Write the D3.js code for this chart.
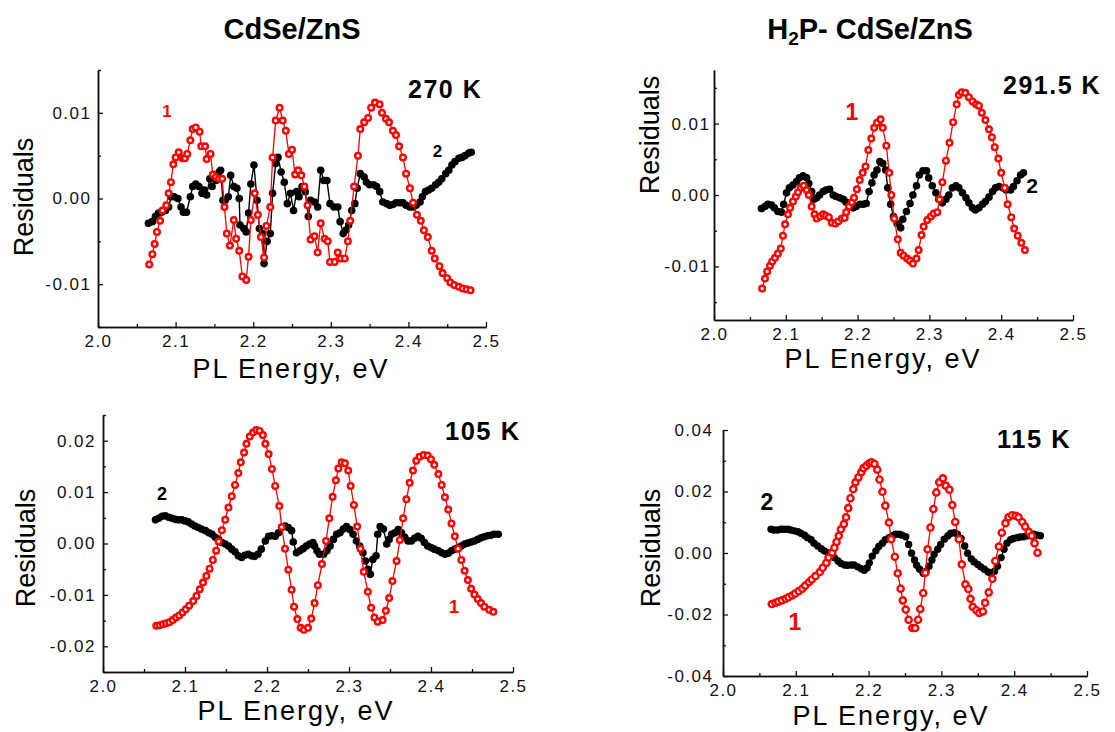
<!DOCTYPE html>
<html>
<head>
<meta charset="utf-8">
<script src="https://cdn.jsdelivr.net/npm/d3@7"></script>
<style>
  html, body { margin: 0; padding: 0; background: #fff; }
  svg { display: block; font-family: Arial, "Liberation Sans", sans-serif; }
</style>
</head>
<body>
<div id="chart"></div>
<script>
// residual curves, [PL energy (eV), residual]; 1 = red open circles, 2 = black dots

// CdSe/ZnS, 270 K
const red270 = [
  [2.066,-0.0077],[2.070,-0.0065],[2.073,-0.0053],[2.076,-0.0039],[2.080,-0.0026],[2.083,-0.0014],[2.088,-0.0008],
  [2.091,0.0006],[2.094,0.0019],[2.097,0.0040],[2.100,0.0048],[2.104,0.0054],[2.109,0.0047],[2.112,0.0047],
  [2.115,0.0052],[2.119,0.0068],[2.122,0.0081],[2.126,0.0083],[2.131,0.0078],[2.133,0.0061],[2.138,0.0061],
  [2.140,0.0046],[2.145,0.0052],[2.148,0.0028],[2.152,0.0025],[2.156,0.0023],[2.160,0.0023],[2.163,-0.0010],
  [2.166,-0.0041],[2.170,-0.0055],[2.175,-0.0025],[2.178,-0.0047],[2.182,-0.0061],[2.186,-0.0091],[2.191,-0.0095],
  [2.194,-0.0068],[2.197,-0.0025],[2.202,0.0006],[2.206,-0.0019],[2.210,-0.0045],[2.214,-0.0069],[2.217,-0.0032],
  [2.222,-0.0010],[2.225,0.0048],[2.229,0.0091],[2.234,0.0106],[2.238,0.0091],[2.242,0.0079],[2.246,0.0052],
  [2.250,0.0057],[2.254,0.0028],[2.258,0.0033],[2.262,0.0027],[2.266,0.0014],[2.270,-0.0008],[2.274,-0.0048],
  [2.279,-0.0044],[2.283,-0.0063],[2.287,-0.0029],[2.292,-0.0047],[2.296,-0.0050],[2.299,-0.0074],[2.305,-0.0074],
  [2.309,-0.0063],[2.313,-0.0070],[2.318,-0.0070],[2.322,-0.0050],[2.325,-0.0026],[2.330,0.0014],[2.335,0.0050],
  [2.338,0.0081],[2.343,0.0089],[2.348,0.0094],[2.352,0.0106],[2.357,0.0112],[2.363,0.0110],[2.366,0.0100],
  [2.371,0.0093],[2.375,0.0089],[2.380,0.0079],[2.384,0.0074],[2.388,0.0061],[2.393,0.0048],[2.397,0.0029],
  [2.402,0.0012],[2.406,-0.0005],[2.411,-0.0019],[2.416,-0.0026],[2.420,-0.0037],[2.425,-0.0045],[2.430,-0.0061],
  [2.434,-0.0070],[2.440,-0.0079],[2.444,-0.0087],[2.450,-0.0093],[2.454,-0.0098],[2.459,-0.0101],[2.465,-0.0103],
  [2.470,-0.0105],[2.475,-0.0106],[2.480,-0.0107]
];
const black270 = [
  [2.065,-0.0029],[2.070,-0.0027],[2.074,-0.0021],[2.078,-0.0017],[2.082,-0.0016],[2.087,-0.0014],[2.091,-0.0010],
  [2.094,0.0002],[2.098,0.0002],[2.103,0.0000],[2.107,-0.0010],[2.110,-0.0016],[2.114,-0.0016],[2.119,0.0002],
  [2.122,0.0014],[2.126,0.0017],[2.130,0.0014],[2.134,0.0006],[2.137,0.0010],[2.140,0.0004],[2.144,0.0023],
  [2.147,0.0014],[2.152,0.0021],[2.156,0.0031],[2.158,0.0033],[2.161,-0.0002],[2.164,-0.0002],[2.168,0.0002],
  [2.171,0.0027],[2.175,0.0014],[2.179,0.0012],[2.182,0.0000],[2.183,-0.0031],[2.188,-0.0035],[2.191,-0.0039],
  [2.194,-0.0017],[2.197,0.0017],[2.201,0.0039],[2.205,-0.0002],[2.208,-0.0035],[2.212,-0.0041],[2.214,-0.0076],
  [2.218,-0.0050],[2.222,-0.0041],[2.225,0.0006],[2.229,0.0041],[2.232,0.0048],[2.236,0.0031],[2.240,0.0019],
  [2.244,-0.0006],[2.248,0.0006],[2.252,-0.0014],[2.256,0.0008],[2.259,0.0002],[2.263,0.0014],[2.267,0.0008],
  [2.271,-0.0021],[2.274,-0.0002],[2.279,-0.0004],[2.283,-0.0010],[2.287,0.0033],[2.291,0.0021],[2.295,0.0021],
  [2.299,-0.0006],[2.304,-0.0010],[2.309,-0.0010],[2.312,-0.0027],[2.316,-0.0041],[2.319,-0.0037],[2.323,-0.0031],
  [2.327,-0.0014],[2.331,-0.0006],[2.334,0.0012],[2.338,0.0029],[2.343,0.0025],[2.346,0.0019],[2.350,0.0016],
  [2.355,0.0016],[2.359,0.0014],[2.363,0.0008],[2.367,-0.0004],[2.372,-0.0006],[2.376,-0.0008],[2.380,-0.0007],
  [2.384,-0.0005],[2.389,-0.0005],[2.393,-0.0005],[2.397,-0.0008],[2.402,-0.0010],[2.406,-0.0010],[2.410,-0.0008],
  [2.415,-0.0004],[2.418,0.0002],[2.422,0.0008],[2.426,0.0010],[2.430,0.0012],[2.435,0.0016],[2.439,0.0019],
  [2.443,0.0023],[2.448,0.0029],[2.452,0.0033],[2.456,0.0039],[2.460,0.0043],[2.465,0.0047],[2.469,0.0048],
  [2.473,0.0050],[2.478,0.0053],[2.481,0.0054]
];

// H2P- CdSe/ZnS, 291.5 K
const red2915 = [
  [2.067,-0.0131],[2.071,-0.0117],[2.074,-0.0107],[2.078,-0.0099],[2.081,-0.0093],[2.085,-0.0088],[2.089,-0.0082],
  [2.093,-0.0075],[2.096,-0.0057],[2.099,-0.0041],[2.103,-0.0027],[2.106,-0.0018],[2.110,-0.0009],[2.114,-0.0002],
  [2.117,0.0004],[2.121,0.0010],[2.125,0.0013],[2.129,0.0007],[2.132,0.0000],[2.136,-0.0016],[2.140,-0.0027],
  [2.143,-0.0033],[2.148,-0.0030],[2.152,-0.0027],[2.156,-0.0029],[2.160,-0.0031],[2.164,-0.0039],[2.169,-0.0040],
  [2.173,-0.0037],[2.178,-0.0033],[2.182,-0.0032],[2.184,-0.0024],[2.188,-0.0016],[2.192,-0.0010],[2.195,-0.0004],
  [2.199,0.0008],[2.203,0.0021],[2.207,0.0031],[2.211,0.0040],[2.215,0.0063],[2.219,0.0079],[2.223,0.0094],
  [2.227,0.0101],[2.232,0.0106],[2.235,0.0094],[2.240,0.0069],[2.244,0.0031],[2.247,0.0000],[2.251,-0.0033],
  [2.256,-0.0062],[2.260,-0.0081],[2.264,-0.0085],[2.269,-0.0089],[2.273,-0.0092],[2.277,-0.0096],[2.282,-0.0089],
  [2.285,-0.0077],[2.289,-0.0056],[2.292,-0.0044],[2.297,-0.0035],[2.302,-0.0030],[2.306,-0.0026],[2.311,-0.0024],
  [2.314,-0.0006],[2.318,0.0018],[2.323,0.0048],[2.328,0.0073],[2.333,0.0102],[2.338,0.0127],[2.341,0.0140],
  [2.345,0.0144],[2.350,0.0143],[2.355,0.0137],[2.360,0.0131],[2.365,0.0127],[2.369,0.0125],[2.373,0.0115],
  [2.378,0.0105],[2.383,0.0092],[2.387,0.0081],[2.391,0.0067],[2.396,0.0051],[2.400,0.0031],[2.405,0.0010],
  [2.409,-0.0013],[2.414,-0.0031],[2.418,-0.0047],[2.423,-0.0057],[2.428,-0.0067],[2.433,-0.0077]
];
const black2915 = [
  [2.066,-0.0019],[2.071,-0.0016],[2.075,-0.0013],[2.080,-0.0014],[2.084,-0.0018],[2.089,-0.0023],[2.094,-0.0024],
  [2.097,-0.0013],[2.101,0.0003],[2.105,0.0010],[2.110,0.0014],[2.115,0.0019],[2.119,0.0024],[2.124,0.0027],
  [2.129,0.0024],[2.132,0.0016],[2.136,0.0005],[2.139,-0.0006],[2.143,-0.0004],[2.147,0.0000],[2.152,0.0005],
  [2.156,0.0007],[2.161,0.0008],[2.166,0.0000],[2.170,-0.0002],[2.175,-0.0004],[2.180,-0.0006],[2.184,-0.0010],
  [2.189,-0.0016],[2.194,-0.0018],[2.198,-0.0016],[2.203,-0.0013],[2.208,-0.0013],[2.212,-0.0012],[2.216,0.0005],
  [2.220,0.0017],[2.223,0.0028],[2.227,0.0035],[2.231,0.0047],[2.235,0.0044],[2.239,0.0035],[2.242,0.0010],
  [2.246,-0.0013],[2.250,-0.0030],[2.255,-0.0040],[2.260,-0.0046],[2.263,-0.0034],[2.268,-0.0023],[2.273,-0.0012],
  [2.277,0.0000],[2.282,0.0013],[2.286,0.0028],[2.291,0.0034],[2.296,0.0034],[2.299,0.0024],[2.304,0.0013],
  [2.309,0.0003],[2.313,-0.0006],[2.318,-0.0011],[2.323,-0.0006],[2.327,0.0000],[2.332,0.0010],[2.337,0.0013],
  [2.341,0.0010],[2.346,0.0003],[2.351,-0.0004],[2.355,-0.0011],[2.360,-0.0018],[2.364,-0.0021],[2.369,-0.0018],
  [2.374,-0.0013],[2.378,-0.0009],[2.383,-0.0003],[2.388,0.0005],[2.392,0.0010],[2.397,0.0012],[2.402,0.0010],
  [2.407,0.0007],[2.413,0.0007],[2.417,0.0012],[2.422,0.0020],[2.427,0.0028],[2.431,0.0031]
];

// CdSe/ZnS, 105 K
const red105 = [
  [2.065,-0.0160],[2.069,-0.0159],[2.073,-0.0157],[2.077,-0.0155],[2.081,-0.0153],[2.085,-0.0149],[2.089,-0.0144],
  [2.093,-0.0140],[2.097,-0.0134],[2.101,-0.0128],[2.105,-0.0121],[2.110,-0.0112],[2.114,-0.0102],[2.118,-0.0089],
  [2.122,-0.0076],[2.126,-0.0063],[2.130,-0.0049],[2.134,-0.0032],[2.138,-0.0014],[2.141,0.0004],[2.145,0.0026],
  [2.149,0.0046],[2.153,0.0070],[2.157,0.0092],[2.161,0.0114],[2.165,0.0137],[2.168,0.0158],[2.172,0.0177],
  [2.175,0.0194],[2.179,0.0208],[2.183,0.0216],[2.187,0.0221],[2.191,0.0219],[2.195,0.0211],[2.198,0.0194],
  [2.202,0.0174],[2.206,0.0145],[2.210,0.0112],[2.215,0.0073],[2.218,0.0032],[2.222,-0.0010],[2.226,-0.0051],
  [2.230,-0.0090],[2.233,-0.0123],[2.237,-0.0147],[2.241,-0.0164],[2.245,-0.0168],[2.250,-0.0164],[2.254,-0.0146],
  [2.258,-0.0116],[2.262,-0.0081],[2.267,-0.0040],[2.272,0.0005],[2.276,0.0049],[2.280,0.0091],[2.284,0.0123],
  [2.287,0.0146],[2.291,0.0158],[2.295,0.0156],[2.299,0.0142],[2.302,0.0112],[2.306,0.0075],[2.310,0.0033],
  [2.314,-0.0010],[2.318,-0.0055],[2.323,-0.0094],[2.327,-0.0125],[2.331,-0.0144],[2.335,-0.0152],[2.341,-0.0149],
  [2.345,-0.0131],[2.349,-0.0106],[2.353,-0.0073],[2.358,-0.0034],[2.362,0.0007],[2.366,0.0049],[2.370,0.0086],
  [2.374,0.0118],[2.378,0.0142],[2.382,0.0161],[2.386,0.0169],[2.391,0.0172],[2.396,0.0171],[2.400,0.0164],
  [2.404,0.0153],[2.409,0.0135],[2.413,0.0114],[2.417,0.0090],[2.421,0.0066],[2.425,0.0039],[2.429,0.0014],
  [2.433,-0.0010],[2.437,-0.0032],[2.441,-0.0053],[2.445,-0.0071],[2.449,-0.0088],[2.453,-0.0099],[2.457,-0.0108],
  [2.461,-0.0116],[2.465,-0.0123],[2.471,-0.0129],[2.476,-0.0133]
];
const black105 = [
  [2.064,0.0046],[2.068,0.0049],[2.072,0.0053],[2.076,0.0054],[2.080,0.0051],[2.084,0.0049],[2.088,0.0047],
  [2.092,0.0046],[2.096,0.0046],[2.100,0.0044],[2.104,0.0042],[2.108,0.0038],[2.112,0.0034],[2.116,0.0031],
  [2.120,0.0028],[2.125,0.0025],[2.129,0.0021],[2.133,0.0018],[2.137,0.0012],[2.141,0.0008],[2.145,0.0002],
  [2.149,-0.0001],[2.153,-0.0005],[2.157,-0.0011],[2.161,-0.0016],[2.165,-0.0024],[2.169,-0.0027],[2.173,-0.0023],
  [2.177,-0.0021],[2.181,-0.0024],[2.185,-0.0025],[2.189,-0.0021],[2.193,-0.0011],[2.198,0.0005],[2.202,0.0014],
  [2.206,0.0015],[2.210,0.0014],[2.214,0.0021],[2.218,0.0031],[2.222,0.0034],[2.226,0.0031],[2.230,0.0025],
  [2.232,0.0003],[2.236,-0.0018],[2.240,-0.0014],[2.244,-0.0010],[2.248,-0.0005],[2.252,-0.0001],[2.256,0.0002],
  [2.258,-0.0005],[2.261,-0.0014],[2.264,-0.0021],[2.269,-0.0021],[2.273,-0.0014],[2.277,-0.0005],[2.281,0.0008],
  [2.285,0.0018],[2.289,0.0021],[2.293,0.0028],[2.297,0.0033],[2.301,0.0027],[2.305,0.0018],[2.309,0.0005],
  [2.313,-0.0005],[2.317,-0.0018],[2.320,-0.0034],[2.323,-0.0050],[2.326,-0.0060],[2.329,-0.0031],[2.333,-0.0024],
  [2.335,0.0018],[2.338,0.0033],[2.342,0.0028],[2.346,-0.0001],[2.349,0.0008],[2.352,0.0018],[2.356,0.0021],
  [2.360,0.0027],[2.364,0.0021],[2.368,0.0012],[2.372,0.0005],[2.376,0.0005],[2.380,0.0010],[2.384,0.0014],
  [2.388,0.0010],[2.392,0.0002],[2.396,-0.0005],[2.400,-0.0008],[2.404,-0.0011],[2.409,-0.0014],[2.413,-0.0018],
  [2.417,-0.0021],[2.421,-0.0019],[2.425,-0.0014],[2.429,-0.0011],[2.433,-0.0008],[2.437,-0.0005],[2.441,-0.0001],
  [2.445,0.0001],[2.449,0.0003],[2.453,0.0005],[2.457,0.0008],[2.461,0.0011],[2.465,0.0013],[2.469,0.0015],
  [2.473,0.0016],[2.477,0.0018],[2.482,0.0018]
];

// H2P- CdSe/ZnS, 115 K
const red115 = [
  [2.067,-0.0166],[2.072,-0.0162],[2.076,-0.0158],[2.081,-0.0154],[2.086,-0.0149],[2.090,-0.0144],[2.095,-0.0138],
  [2.099,-0.0132],[2.104,-0.0124],[2.109,-0.0116],[2.113,-0.0106],[2.118,-0.0095],[2.122,-0.0086],[2.127,-0.0075],
  [2.133,-0.0062],[2.137,-0.0048],[2.142,-0.0032],[2.145,-0.0015],[2.150,0.0001],[2.153,0.0017],[2.156,0.0036],
  [2.159,0.0056],[2.162,0.0077],[2.166,0.0094],[2.169,0.0116],[2.172,0.0146],[2.175,0.0178],[2.179,0.0208],
  [2.182,0.0230],[2.186,0.0246],[2.190,0.0263],[2.193,0.0276],[2.197,0.0284],[2.201,0.0292],[2.204,0.0295],
  [2.208,0.0290],[2.212,0.0271],[2.215,0.0239],[2.219,0.0199],[2.223,0.0154],[2.228,0.0099],[2.231,0.0045],
  [2.236,-0.0012],[2.240,-0.0066],[2.244,-0.0116],[2.247,-0.0154],[2.251,-0.0184],[2.255,-0.0217],[2.260,-0.0244],
  [2.264,-0.0244],[2.268,-0.0217],[2.271,-0.0182],[2.275,-0.0130],[2.278,-0.0064],[2.281,0.0012],[2.285,0.0083],
  [2.289,0.0143],[2.293,0.0197],[2.297,0.0230],[2.302,0.0243],[2.306,0.0219],[2.311,0.0206],[2.315,0.0156],
  [2.319,0.0101],[2.324,0.0045],[2.328,-0.0037],[2.333,-0.0102],[2.337,-0.0117],[2.340,-0.0149],[2.343,-0.0175],
  [2.348,-0.0186],[2.352,-0.0195],[2.357,-0.0190],[2.360,-0.0162],[2.365,-0.0128],[2.370,-0.0084],[2.374,-0.0026],
  [2.379,0.0021],[2.383,0.0066],[2.388,0.0097],[2.392,0.0116],[2.397,0.0123],[2.402,0.0121],[2.406,0.0116],
  [2.411,0.0101],[2.415,0.0086],[2.420,0.0069],[2.424,0.0056],[2.428,0.0032],[2.432,0.0001]
];
const black115 = [
  [2.066,0.0077],[2.070,0.0075],[2.075,0.0075],[2.080,0.0077],[2.084,0.0077],[2.089,0.0077],[2.093,0.0075],
  [2.098,0.0072],[2.103,0.0069],[2.107,0.0064],[2.112,0.0058],[2.116,0.0050],[2.121,0.0043],[2.125,0.0032],
  [2.130,0.0023],[2.135,0.0014],[2.139,0.0007],[2.144,0.0001],[2.148,-0.0008],[2.153,-0.0015],[2.158,-0.0026],
  [2.162,-0.0034],[2.167,-0.0039],[2.171,-0.0040],[2.176,-0.0039],[2.180,-0.0039],[2.185,-0.0045],[2.190,-0.0051],
  [2.194,-0.0056],[2.198,-0.0048],[2.201,-0.0032],[2.205,-0.0010],[2.210,0.0007],[2.214,0.0021],[2.219,0.0032],
  [2.223,0.0043],[2.228,0.0050],[2.233,0.0056],[2.237,0.0061],[2.242,0.0061],[2.246,0.0058],[2.251,0.0053],
  [2.255,0.0028],[2.259,-0.0001],[2.263,-0.0023],[2.266,-0.0040],[2.270,-0.0053],[2.275,-0.0066],[2.279,-0.0059],
  [2.283,-0.0043],[2.287,-0.0023],[2.290,-0.0004],[2.295,0.0012],[2.299,0.0028],[2.304,0.0045],[2.309,0.0056],
  [2.313,0.0064],[2.318,0.0066],[2.322,0.0061],[2.327,0.0047],[2.332,0.0023],[2.336,-0.0001],[2.341,-0.0019],
  [2.345,-0.0029],[2.350,-0.0037],[2.354,-0.0045],[2.359,-0.0053],[2.364,-0.0062],[2.368,-0.0066],[2.373,-0.0059],
  [2.377,-0.0043],[2.382,-0.0015],[2.386,0.0012],[2.390,0.0032],[2.395,0.0043],[2.399,0.0047],[2.404,0.0050],
  [2.408,0.0052],[2.413,0.0053],[2.418,0.0056],[2.422,0.0058],[2.427,0.0061],[2.432,0.0058],[2.436,0.0056]
];

// axes and tick values
const xDomain = [2.0, 2.5];
const xMajor = [2.0, 2.1, 2.2, 2.3, 2.4, 2.5];
const xMinor = [2.05, 2.15, 2.25, 2.35, 2.45];
const titles = ["CdSe/ZnS", "H2P- CdSe/ZnS"];
const temps = ["270 K", "291.5 K", "105 K", "115 K"];

const W = 1115, H = 732;
const font = 'Arial, "Liberation Sans", sans-serif';

const svg = d3.select('#chart').append('svg')
  .attr('width', W)
  .attr('height', H);

// column titles
svg.append('text')
  .attr('x', 292).attr('y', 39)
  .attr('text-anchor', 'middle')
  .style('font-size', '29px').style('font-weight', 'bold')
  .text(titles[0]);

const t2 = svg.append('text')
  .attr('x', 870).attr('y', 39)
  .attr('text-anchor', 'middle')
  .style('font-size', '29px').style('font-weight', 'bold');
t2.append('tspan').text('H');
t2.append('tspan').attr('dy', 6).style('font-size', '19px').text('2');
t2.append('tspan').attr('dy', -6).text(titles[1].slice(2));

const panels = [
  { left: 98, right: 486, top: 70, bottom: 327, yDomain: [-0.015, 0.015],
    yMajor: [-0.01, 0, 0.01], yMinor: [-0.015, -0.005, 0.005, 0.015],
    red: red270, black: black270, temp: temps[0], tempX: 408, tempY: 98, tempSize: 25,
    redR: 2.8, blackR: 3.8, labelPad: 6.5,
    ylabX: 33, ylabY: 197, xlabX: 291, xlabY: 378,
    n1: [167, 117, 17], n2: [437.5, 157, 17] },
  { left: 714, right: 1073, top: 70, bottom: 320, yDomain: [-0.0175, 0.0175],
    yMajor: [-0.01, 0, 0.01], yMinor: [-0.015, -0.005, 0.005, 0.015],
    red: red2915, black: black2915, temp: temps[1], tempX: 1003, tempY: 94, tempSize: 25,
    redR: 2.8, blackR: 3.8, labelPad: 3.5,
    ylabX: 659, ylabY: 135, xlabX: 883, xlabY: 368,
    n1: [852, 120, 23], n2: [1032, 193, 21] },
  { left: 103, right: 513, top: 415, bottom: 672, yDomain: [-0.025, 0.025],
    yMajor: [-0.02, -0.01, 0, 0.01, 0.02], yMinor: [-0.025, -0.015, -0.005, 0.005, 0.015, 0.025],
    red: red105, black: black105, temp: temps[2], tempX: 445, tempY: 440, tempSize: 25.5,
    redR: 2.8, blackR: 3.8, labelPad: 7,
    ylabX: 35, ylabY: 548, xlabX: 296, xlabY: 720,
    n1: [454, 613, 18], n2: [162, 500, 18] },
  { left: 723, right: 1087, top: 430, bottom: 676, yDomain: [-0.04, 0.04],
    yMajor: [-0.04, -0.02, 0, 0.02, 0.04], yMinor: [-0.03, -0.01, 0.01, 0.03],
    red: red115, black: black115, temp: temps[3], tempX: 997, tempY: 448, tempSize: 25.5,
    redR: 3.1, blackR: 3.7, labelPad: 9.5,
    ylabX: 660, ylabY: 548, xlabX: 891, xlabY: 725,
    n1: [795, 630, 23], n2: [767, 510, 23] }
];

panels.forEach(p => {
  const x = d3.scaleLinear().domain(xDomain).range([p.left, p.right]);
  const y = d3.scaleLinear().domain(p.yDomain).range([p.bottom, p.top]);
  const g = svg.append('g');

  // minor ticks (inward)
  g.append('g')
    .attr('transform', `translate(0,${p.bottom})`)
    .call(d3.axisBottom(x).tickValues(xMinor).tickSize(-3).tickSizeOuter(0).tickFormat(''));
  g.append('g')
    .attr('transform', `translate(${p.left},0)`)
    .call(d3.axisLeft(y).tickValues(p.yMinor).tickSize(-3).tickSizeOuter(0).tickFormat(''));

  // major ticks + labels
  g.append('g')
    .attr('transform', `translate(0,${p.bottom})`)
    .call(d3.axisBottom(x).tickValues(xMajor).tickSize(-5).tickSizeOuter(0)
      .tickPadding(7.5).tickFormat(d => d.toFixed(1)));
  g.append('g')
    .attr('transform', `translate(${p.left},0)`)
    .call(d3.axisLeft(y).tickValues(p.yMajor).tickSize(-5).tickSizeOuter(0)
      .tickPadding(p.labelPad).tickFormat(d => d.toFixed(2)));

  g.selectAll('.domain').attr('stroke', '#111').attr('stroke-width', 1.5);
  g.selectAll('.tick line').attr('stroke', '#111').attr('stroke-width', 1.3);
  g.selectAll('.tick text')
    .attr('fill', '#111')
    .style('font-family', font)
    .style('font-size', '17px')
    .style('letter-spacing', '1.5px');

  // axis titles
  svg.append('text')
    .attr('transform', `translate(${p.ylabX},${p.ylabY}) rotate(-90)`)
    .attr('text-anchor', 'middle')
    .style('font-size', '27px')
    .text('Residuals');
  svg.append('text')
    .attr('x', p.xlabX).attr('y', p.xlabY)
    .attr('text-anchor', 'middle')
    .style('font-size', '27px')
    .style('letter-spacing', '2px')
    .text('PL Energy, eV');

  const line = d3.line().x(d => x(d[0])).y(d => y(d[1]));

  // curve 2: black dots
  g.append('path')
    .datum(p.black)
    .attr('d', line)
    .attr('fill', 'none')
    .attr('stroke', '#000')
    .attr('stroke-width', 1.4);
  g.selectAll('circle.b')
    .data(p.black)
    .enter()
    .append('circle')
    .attr('class', 'b')
    .attr('cx', d => x(d[0]))
    .attr('cy', d => y(d[1]))
    .attr('r', p.blackR)
    .attr('fill', '#000');

  // curve 1: red open circles
  g.append('path')
    .datum(p.red)
    .attr('d', line)
    .attr('fill', 'none')
    .attr('stroke', '#f00')
    .attr('stroke-width', 1.3);
  g.selectAll('circle.r')
    .data(p.red)
    .enter()
    .append('circle')
    .attr('class', 'r')
    .attr('cx', d => x(d[0]))
    .attr('cy', d => y(d[1]))
    .attr('r', p.redR)
    .attr('fill', '#fff')
    .attr('stroke', '#f00')
    .attr('stroke-width', 2.4);

  // temperature + curve numbers
  svg.append('text')
    .attr('x', p.tempX).attr('y', p.tempY)
    .style('font-size', p.tempSize + 'px')
    .style('font-weight', 'bold')
    .style('letter-spacing', '1.5px')
    .text(p.temp);
  svg.append('text')
    .attr('x', p.n1[0]).attr('y', p.n1[1])
    .attr('text-anchor', 'middle')
    .attr('fill', '#f00')
    .style('font-size', p.n1[2] + 'px')
    .style('font-weight', 'bold')
    .text('1');
  svg.append('text')
    .attr('x', p.n2[0]).attr('y', p.n2[1])
    .attr('text-anchor', 'middle')
    .attr('fill', '#000')
    .style('font-size', p.n2[2] + 'px')
    .style('font-weight', 'bold')
    .text('2');
});
</script>
</body>
</html>
